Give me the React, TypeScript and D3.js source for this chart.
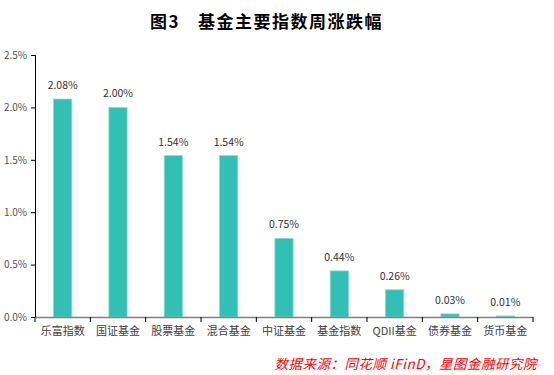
import React, { useEffect, useRef } from "react";
import * as d3 from "d3";

const categories = ["乐富指数", "国证基金", "股票基金", "混合基金", "中证基金", "基金指数", "QDII基金", "债券基金", "货币基金"];
const values = [2.08, 2.0, 1.54, 1.54, 0.75, 0.44, 0.26, 0.03, 0.01];
const yTicks = [0, 0.5, 1.0, 1.5, 2.0, 2.5];

const App = () => {
  const svgRef = useRef(null);
  const width = 554;
  const height = 375;
  const margin = { left: 35, right: 21, top: 55, bottom: 58 };

  useEffect(() => {
    const svg = d3.select(svgRef.current);
    svg.selectAll("*").remove();

    const font = "'Noto Sans CJK SC', 'Noto Sans', sans-serif";

    const x = d3
      .scaleBand()
      .domain(categories)
      .range([margin.left, width - margin.right])
      .paddingInner(0.67)
      .paddingOuter(0.335);

    const y = d3
      .scaleLinear()
      .domain([0, 2.5])
      .range([height - margin.bottom, margin.top]);

    // title
    const title = svg
      .append("text")
      .attr("y", 28)
      .attr("font-family", "'Noto Sans CJK SC', serif")
      .attr("font-weight", "bold")
      .attr("font-size", 17)
      .attr("letter-spacing", 1.5)
      .attr("fill", "#000");
    title.append("tspan").attr("x", 150).text("图3");
    title.append("tspan").attr("x", 198).text("基金主要指数周涨跌幅");

    // y axis
    const yAxis = svg
      .append("g")
      .attr("transform", `translate(${margin.left},0)`)
      .call(
        d3
          .axisLeft(y)
          .tickValues(yTicks)
          .tickSize(4)
          .tickPadding(4)
          .tickFormat((d: any) => d3.format(".1f")(d) + "%")
      );
    yAxis.select(".domain").attr("stroke", "#000").attr("stroke-width", 1);
    yAxis.selectAll(".tick line").attr("stroke", "#000");
    yAxis
      .selectAll(".tick text")
      .attr("font-family", font)
      .attr("font-size", 10)
      .attr("fill", "#555");

    // bars
    svg
      .append("g")
      .selectAll("rect")
      .data(values)
      .enter()
      .append("rect")
      .attr("x", (d, i) => x(categories[i]) as number)
      .attr("y", (d) => y(d))
      .attr("width", x.bandwidth())
      .attr("height", (d) => y(0) - y(d))
      .attr("fill", "#32C0B4")
      .attr("stroke", "#8fdcd3")
      .attr("stroke-width", 0.8);

    // value labels
    svg
      .append("g")
      .selectAll("text")
      .data(values)
      .enter()
      .append("text")
      .attr("x", (d, i) => (x(categories[i]) as number) + x.bandwidth() / 2)
      .attr("y", (d) => y(d) - 10)
      .attr("text-anchor", "middle")
      .attr("font-family", font)
      .attr("font-size", 10.5)
      .attr("fill", "#333")
      .text((d) => d.toFixed(2) + "%");

    // x axis
    const xAxis = svg
      .append("g")
      .attr("transform", `translate(0,${y(0)})`)
      .call(d3.axisBottom(x).tickSize(0).tickPadding(10));
    xAxis.select(".domain").attr("stroke", "#808080").attr("stroke-width", 1.5);
    xAxis
      .selectAll(".tick text")
      .attr("font-family", font)
      .attr("font-size", 11)
      .attr("fill", "#404040");

    const step = x.step();
    const bounds = d3.range(categories.length + 1).map((i) => margin.left + i * step);
    svg
      .append("g")
      .selectAll("line")
      .data(bounds)
      .enter()
      .append("line")
      .attr("x1", (d) => d)
      .attr("x2", (d) => d)
      .attr("y1", y(0))
      .attr("y2", y(0) + 5)
      .attr("stroke", "#000");

    // source
    svg
      .append("text")
      .attr("x", 537)
      .attr("y", 369)
      .attr("text-anchor", "end")
      .attr("font-family", font)
      .attr("font-style", "italic")
      .attr("font-size", 13.5)
      .attr("letter-spacing", 0.5)
      .attr("fill", "#ff0000")
      .text("数据来源：同花顺 iFinD，星图金融研究院");
  }, []);

  return (
    <svg
      ref={svgRef}
      width={width}
      height={height}
      style={{ position: "absolute", left: 0, top: 0, background: "#fff" }}
    />
  );
};

export default App;
